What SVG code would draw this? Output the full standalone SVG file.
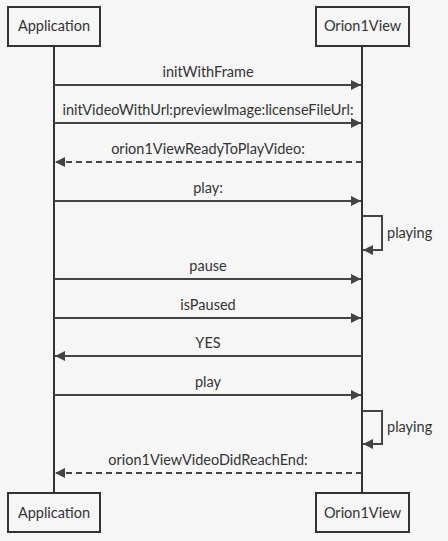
<svg xmlns="http://www.w3.org/2000/svg" width="448" height="541" viewBox="0 0 448 541">
<style>
.bg{fill:#f6f6f6}
.box{fill:#f6f6f6;stroke:#333;stroke-width:2}
.life{stroke:#333;stroke-width:2;fill:none}
.msg{stroke:#444;stroke-width:2;fill:none}
.dash{stroke-dasharray:6,4}
text{font-family:Lato,"Noto Sans","Liberation Sans",sans-serif;font-size:14.5px;fill:#333}
.c{text-anchor:middle}
</style>
<defs>
<marker id="ah" viewBox="0 0 10 10" refX="10" refY="5" markerWidth="10" markerHeight="10" markerUnits="userSpaceOnUse" orient="auto">
<path d="M0,0 L10,5 L0,10 z" fill="#444"/>
</marker>
</defs>
<rect class="bg" x="0" y="0" width="448" height="541"/>
<g id="lifelines">
<line class="life" x1="54" y1="46" x2="54" y2="493"/>
<line class="life" x1="362" y1="46" x2="362" y2="493"/>
</g>
<g id="app-top"><rect class="box" x="8" y="7" width="92" height="39"/><text class="c" x="54" y="31">Application</text></g>
<g id="orion-top"><rect class="box" x="316" y="7" width="93" height="39"/><text class="c" x="362.5" y="31">Orion1View</text></g>
<g id="app-bottom"><rect class="box" x="8" y="493" width="92" height="39"/><text class="c" x="54" y="518">Application</text></g>
<g id="orion-bottom"><rect class="box" x="316" y="493" width="93" height="39"/><text class="c" x="362.5" y="518">Orion1View</text></g>
<g id="connectors">
<line class="msg" x1="54" y1="85" x2="361" y2="85" marker-end="url(#ah)"/>
<text class="c" x="208" y="77">initWithFrame</text>
<line class="msg" x1="54" y1="123" x2="361" y2="123" marker-end="url(#ah)"/>
<text class="c" x="208" y="115">initVideoWithUrl:previewImage:licenseFileUrl:</text>
<line class="msg dash" x1="362" y1="162" x2="55" y2="162" marker-end="url(#ah)"/>
<text class="c" x="208" y="154">orion1ViewReadyToPlayVideo:</text>
<line class="msg" x1="54" y1="201" x2="361" y2="201" marker-end="url(#ah)"/>
<text class="c" x="208" y="193">play:</text>
<polyline class="msg" points="362,216 382,216 382,250 363,250" marker-end="url(#ah)"/>
<text x="387" y="238">playing</text>
<line class="msg" x1="54" y1="279" x2="361" y2="279" marker-end="url(#ah)"/>
<text class="c" x="208" y="271">pause</text>
<line class="msg" x1="54" y1="318" x2="361" y2="318" marker-end="url(#ah)"/>
<text class="c" x="208" y="310">isPaused</text>
<line class="msg" x1="362" y1="356" x2="55" y2="356" marker-end="url(#ah)"/>
<text class="c" x="208" y="348">YES</text>
<line class="msg" x1="54" y1="395" x2="361" y2="395" marker-end="url(#ah)"/>
<text class="c" x="208" y="387">play</text>
<polyline class="msg" points="362,411 382,411 382,444 363,444" marker-end="url(#ah)"/>
<text x="387" y="432">playing</text>
<line class="msg dash" x1="362" y1="473" x2="55" y2="473" marker-end="url(#ah)"/>
<text class="c" x="208" y="465">orion1ViewVideoDidReachEnd:</text>
</g>
</svg>
